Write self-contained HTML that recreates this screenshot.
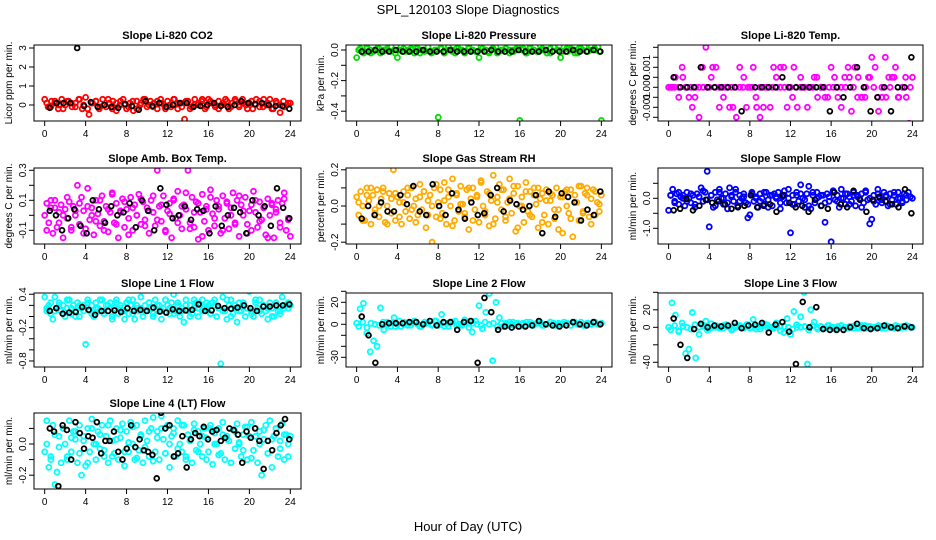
<!DOCTYPE html>
<html><head><meta charset="utf-8">
<style>
html,body{margin:0;padding:0;background:#fff;}
svg{display:block;font-family:"Liberation Sans",Arial,sans-serif;}
</style></head>
<body>
<svg id="chart" width="936" height="540" viewBox="0 0 936 540">
<text x="468" y="14" text-anchor="middle" font-size="13">SPL_120103  Slope Diagnostics</text>
<text x="468" y="531" text-anchor="middle" font-size="13">Hour of Day (UTC)</text>
</svg>
<script>
// ---- data (hours are evenly spread over the day) ----
const xTicks = [0,4,8,12,16,20,24];

const co2Color = [0.3,-0.1,0.2,0.1,-0.2,0.3,0.0,0.2,-0.1,0.1,0.3,-0.2,0.4,-0.5,0.1,0.2,-0.2,0.3,-0.1,0.1,0.2,-0.3,0.0,0.3,-0.2,0.1,-0.3,0.2,0.0,0.3,-0.1,0.2,0.1,-0.2,0.3,0.0,0.2,-0.1,0.3,-0.2,0.1,-0.75,0.2,-0.1,0.3,0.0,0.2,-0.2,0.3,0.1,-0.1,0.2,0.0,0.3,-0.2,0.1,0.2,-0.1,0.3,0.0,0.1,-0.2,0.3,0.2,-0.1,0.0,0.3,-0.2,0.1,-0.4,0.2,0.0,0.1];
const co2Color2 = [0.1,-0.1,0.2,0.0,-0.2,0.2,0.1,-0.1,0.3,0.0,-0.2,0.1,0.2,-0.1,0.0,0.3,-0.2,0.1,0.2,0.0,-0.1,0.2,-0.2,0.1,0.3,0.0,-0.1,0.2,0.1,-0.2,0.0,0.3,0.1,-0.1,0.2,-0.2,0.0,0.1,0.3,-0.1,0.2,0.0,-0.2,0.1,0.2,-0.1,0.3,0.0,0.1,-0.2,0.2,0.0,-0.1,0.3,0.1,-0.2,0.2,0.0,-0.1,0.1];
const co2Black = [-0.15,0.1,0.1,0.1,3.0,-0.05,0.15,-0.1,0.0,-0.1,-0.15,0.05,-0.05,-0.25,0.2,-0.05,0.1,-0.1,0.0,0.1,0.1,-0.1,-0.05,0.0,0.1,-0.05,-0.1,0.0,0.2,0.1,0.05,0.1,0.0,-0.05,-0.05,-0.2];
const co2Ticks = [0,1,2,3];
const co2Labels = ["0","1","2","3"];

const presColor = [-0.05,0.01,-0.02,0.02,0.0,-0.01,0.01,-0.02,0.0,0.01,-0.01,0.0,-0.05,0.02,-0.01,0.0,0.01,-0.02,0.01,0.0,-0.01,0.02,-0.02,0.0,-0.44,0.01,-0.01,0.02,0.0,-0.02,0.01,0.0,-0.01,0.02,0.0,-0.01,-0.05,0.01,0.0,-0.02,0.01,0.02,-0.01,0.0,0.01,-0.02,0.0,0.01,-0.46,0.01,-0.02,0.02,0.0,-0.01,0.03,0.0,-0.02,0.01,0.02,0.0,-0.05,0.02,-0.01,0.01,0.0,-0.02,0.01,0.02,-0.01,0.0,0.01,0.02,-0.46];
const presColor2 = [0.0,-0.01,0.01,-0.02,0.0,0.01,-0.01,0.0,0.02,-0.02,0.0,0.01,-0.01,0.0,0.01,-0.02,0.0,0.02,-0.01,0.0,0.01,-0.02,0.0,-0.01,0.01,0.0,-0.02,0.01,0.0,-0.01,0.02,0.0,-0.01,0.01,-0.02,0.0,0.01,0.0,-0.01,0.02,0.0,-0.02,0.01,0.0,-0.01,0.01,0.0,-0.02,0.02,0.0,-0.01,0.01,0.0,-0.02,0.01,0.0,-0.01,0.02,0.0,-0.01];
const presBlack = [-0.01,-0.01,0.0,-0.01,-0.01,0.0,-0.01,-0.01,-0.01,0.0,-0.01,-0.01,-0.01,0.0,-0.01,-0.01,-0.01,-0.01,-0.01,0.0,-0.01,-0.01,-0.01,0.0,-0.01,-0.01,-0.01,0.0,-0.01,-0.01,-0.01,0.0,-0.01,-0.01,0.0,-0.01];
const presTicks = [0,-0.1,-0.2,-0.3,-0.4];
const presLabels = ["0.0","","-0.2","","-0.4"];

// Li-820 temp in units of 1e-4 degC/min
const tempColor = [0,0,5,-5,10,0,-5,-10,0,-15,10,20,0,10,10,-10,0,0,-10,-10,-15,10,0,-10,0,10,-10,-15,-10,0,-10,10,0,10,10,-10,0,10,-10,5,0,-10,0,5,-5,0,0,-5,10,5,-5,-10,5,10,-12,10,5,-5,-5,5,15,10,-12,-5,15,5,5,10,-5,23,5,-18,5];
const tempColor2 = [0,0,0,5,0,0,-5,0,0,0,5,0,0,-5,0,0,0,0,5,0,0,-5,0,0,0,0,5,0,0,0,-5,0,0,0,0,0,5,0,-5,0,0,0,0,0,5,0,-5,-5,0,5,0,-5,0,-5,0,5,-5,0,-5,0];
const tempBlack = [5,0,0,0,10,0,0,0,0,0,-12,23,0,0,0,0,5,0,0,0,0,0,0,-12,0,-5,0,10,0,-12,-5,0,-12,0,0,15];
const tempTicks = [20,15,10,5,0,-5,-10,-15];
const tempLabels = ["","","0.001","","0.000","","-0.001",""];

const ambColor = [0.0,0.08,-0.05,0.1,-0.12,0.05,-0.08,0.02,0.07,-0.15,0.04,-0.02,0.09,-0.1,0.06,0.0,0.2,-0.06,0.12,0.03,-0.09,0.18,-0.03,0.05,-0.13,0.1,0.01,-0.07,0.13,-0.04,0.06,-0.11,0.02,0.15,-0.05,0.08,-0.15,0.03,0.11,-0.08,0.04,-0.02,0.12,-0.1,0.07,0.0,0.14,-0.06,0.09,-0.03,0.05,-0.12,0.1,0.02,-0.07,0.3,0.06,-0.04,0.13,-0.1,0.03,0.08,-0.15,0.11,-0.02,0.16,0.0,-0.09,0.07,0.04,0.3,-0.05,0.12,-0.08,0.09,-0.16,0.02,0.14,-0.04,0.06,-0.1,0.17,0.01,-0.07,0.1,0.04,-0.12,0.13,-0.02,0.08,-0.09,0.05,0.15,-0.05,0.1,-0.14,0.07,0.0,0.12,-0.06,0.03,-0.1,0.16,0.02,-0.08,0.09,-0.03,0.05,-0.13,0.11,0.0,0.07,-0.15,0.04,0.1,-0.05,0.08,0.15,-0.1,-0.02,-0.14];
const ambColor2 = [-0.1,0.05,0.1,-0.05,0.0,0.12,-0.08,0.03,0.08,-0.12,0.06,0.0,-0.04,0.1,-0.1,0.04,0.14,-0.06,0.02,0.09,-0.13,0.05,0.0,0.11,-0.07,0.03,0.13,-0.03,0.07,-0.11,0.01,0.1,-0.05,0.06,0.15,-0.09,0.02,0.08,-0.14,0.04,0.12,-0.02,0.06,-0.1,0.09,0.0,-0.06,0.13,0.03,-0.12,0.07,0.1,-0.04,0.05,-0.15,0.08,0.02,-0.08,0.11,-0.03];
const ambBlack = [0.03,0.0,-0.1,-0.02,0.04,-0.07,-0.12,0.1,0.04,-0.05,0.06,0.0,0.02,0.08,-0.08,0.1,0.03,-0.1,0.18,0.07,-0.02,0.0,0.06,-0.03,0.04,0.03,-0.12,0.06,-0.07,0.0,0.05,0.02,-0.12,0.1,0.0,0.06,-0.07,0.18,0.05,-0.02];
const ambTicks = [0.3,0.2,0.1,0.0,-0.1];
const ambLabels = ["0.3","","0.1","","-0.1"];

const rhColor = [0.05,-0.05,0.08,0.0,-0.08,0.1,0.03,-0.1,0.06,-0.02,0.09,-0.06,0.04,0.1,-0.09,0.0,0.07,-0.04,0.2,-0.08,0.05,0.02,-0.1,0.08,-0.03,0.06,-0.07,0.1,0.0,0.04,-0.05,0.12,-0.02,0.08,-0.12,0.03,0.06,-0.2,0.1,-0.06,0.02,0.09,-0.04,0.13,-0.1,0.05,0.0,0.15,-0.08,0.07,-0.03,0.11,0.01,-0.06,0.09,-0.13,0.04,0.1,-0.02,0.06,-0.09,0.14,0.0,-0.05,0.08,-0.11,0.03,0.17,-0.07,0.05,0.12,-0.02,0.09,-0.08,0.02,0.15,-0.04,0.07,-0.14,0.11,0.0,0.05,-0.09,0.13,-0.03,0.08,-0.06,0.1,0.01,-0.12,0.04,0.07,-0.05,0.09,-0.1,0.03,0.06,-0.07,0.1,-0.02,0.05,-0.15,0.08,0.0,-0.04,0.09,-0.17,0.06,0.02,-0.08,0.11,-0.03,0.07,0.1,-0.06,0.04,0.09,-0.05,0.02,-0.03,0.06];
const rhColor2 = [0.02,-0.08,0.06,0.1,-0.04,0.0,0.08,-0.1,0.04,0.07,-0.06,0.02,0.1,-0.02,-0.09,0.05,0.08,-0.05,0.0,0.12,-0.07,0.03,0.09,-0.11,0.06,0.01,-0.04,0.1,-0.08,0.05,0.13,-0.03,0.07,-0.1,0.02,0.09,-0.06,0.04,0.11,-0.12,0.0,0.08,-0.05,0.06,0.1,-0.09,0.03,0.07,-0.02,-0.13,0.05,0.09,-0.07,0.02,0.11,-0.04,0.06,-0.1,0.08,0.01];
const rhBlack = [-0.07,0.0,-0.05,0.02,-0.03,-0.03,0.06,0.01,0.11,-0.03,-0.05,0.12,0.0,-0.05,0.07,-0.02,-0.07,0.02,-0.05,-0.04,0.06,0.1,-0.03,0.03,0.01,-0.02,0.0,0.06,-0.15,0.08,-0.06,0.07,0.05,0.02,-0.08,-0.02,-0.05,0.08];
const rhTicks = [0.2,0.1,0.0,-0.1,-0.2];
const rhLabels = ["0.2","","0.0","","-0.2"];

const flowColor = [-0.4,0.1,0.3,-0.1,0.15,-0.2,0.05,0.1,-0.25,0.2,0.0,-0.15,0.1,-0.3,0.15,0.05,0.35,-0.1,0.2,0.9,-0.95,0.1,-0.3,0.2,-0.05,0.3,0.0,-0.2,0.15,-0.35,0.35,0.05,-0.1,0.2,-0.25,0.1,0.0,0.15,-0.15,-0.65,-0.55,0.2,-0.1,0.05,-0.3,0.15,0.0,-0.2,0.2,-0.05,0.1,-0.25,0.15,0.0,0.2,-0.35,0.05,0.1,-0.15,0.3,-1.15,0.1,-0.2,0.2,-0.1,0.45,0.0,-0.3,0.15,0.4,-0.35,0.1,-0.15,0.2,0.05,-0.25,0.1,-0.8,0.15,-0.1,-1.45,0.2,-0.05,0.1,-0.3,0.3,0.0,-0.2,0.15,0.05,-0.1,0.2,-0.25,0.1,0.0,0.15,-0.15,0.25,-0.05,-0.85,-0.7,0.1,-0.2,0.3,0.0,-0.15,0.2,0.05,-0.25,0.15,-0.05,0.1,-0.2,0.2,0.0,-0.1,0.15,-0.05,0.2,0.05,0.0];
const flowColor2 = [0.1,-0.15,0.2,0.0,-0.1,0.15,-0.2,0.05,0.25,-0.05,0.1,-0.25,0.2,0.0,-0.15,0.1,0.3,-0.1,0.05,-0.2,0.15,0.0,-0.1,0.2,-0.3,0.1,0.05,-0.15,0.25,0.0,-0.2,0.1,0.15,-0.05,-0.25,0.2,0.0,0.1,-0.15,0.05,0.25,-0.1,0.0,0.15,-0.2,0.1,0.05,-0.3,0.2,0.0,-0.1,0.15,-0.05,0.1,-0.2,0.2,0.0,-0.15,0.1,0.05];
const flowBlack = [-0.4,-0.35,-0.02,-0.4,-0.25,-0.05,-0.15,-0.1,-0.2,-0.35,-0.3,-0.25,0.1,-0.3,-0.25,-0.2,-0.45,0.1,-0.15,-0.3,-0.25,-0.45,-0.05,-0.25,-0.35,0.2,-0.2,-0.3,0.25,-0.05,-0.45,-0.05,0.05,-0.1,-0.2,-0.3,0.3,-0.5];
const flowTicks = [0.5,0.0,-0.5,-1.0];
const flowLabels = ["","0.0","","-1.0"];

const l1Color = [0.35,0.1,0.2,0.05,-0.05,0.35,0.15,0.25,0.1,0.2,0.0,0.15,0.3,0.05,0.2,0.1,0.25,0.0,0.15,0.2,-0.5,0.3,0.1,0.2,0.0,0.25,0.15,0.1,0.3,0.05,0.2,0.1,0.25,-0.05,0.15,0.3,0.05,0.2,0.1,-0.05,0.25,0.05,0.2,0.3,-0.05,0.15,0.1,0.35,0.0,0.2,0.1,0.25,0.15,0.05,0.3,0.1,0.2,-0.05,0.15,0.3,0.2,0.05,0.25,0.4,0.1,0.2,0.0,0.15,-0.1,0.3,0.1,0.2,0.05,0.15,0.25,0.0,0.2,0.3,0.1,0.15,0.2,0.05,0.25,0.3,0.0,0.15,-0.85,0.35,0.1,-0.05,0.2,0.3,0.05,0.15,-0.1,0.25,0.1,0.2,0.0,0.15,0.45,0.1,0.0,0.25,0.15,0.3,0.05,0.2,0.1,-0.05,0.25,0.15,0.0,0.2,0.1,0.05,0.35,0.15,0.2,0.25,0.2];
const l1Color2 = [0.15,0.25,0.1,0.2,0.05,0.3,0.15,0.0,0.2,0.1,0.25,0.05,0.15,0.3,0.1,0.2,0.0,0.25,0.15,0.1,0.3,0.05,0.2,0.15,0.1,0.25,0.0,0.2,0.1,0.3,0.15,0.05,0.25,0.1,0.2,0.0,0.3,0.15,0.1,0.25,0.05,0.2,0.15,0.1,0.3,0.0,0.2,0.1,0.25,0.15,0.05,0.3,0.1,0.2,0.15,0.0,0.25,0.1,0.2,0.15];
const l1Black = [0.1,0.15,0.05,0.07,0.08,0.17,0.12,0.03,0.1,0.1,0.11,0.08,0.15,0.1,0.12,0.1,0.16,0.09,0.07,0.13,0.1,0.11,0.12,0.22,0.1,0.11,0.19,0.15,0.14,0.16,0.2,0.15,0.1,0.18,0.18,0.2,0.2,0.22];
const l1Ticks = [0.4,0.2,0.0,-0.2,-0.4,-0.6,-0.8];
const l1Labels = ["0.4","","","-0.2","","","-0.8"];

const l2Color = [1,14,19,-8,-25,-15,-20,15,-5,2,-2,6,0,-2,2,1,-1,3,0,-2,2,1,0,3,-1,9,1,-2,2,3,0,-1,2,1,-7,3,17,-4,11,28,-33,20,6,-2,1,-1,2,0,-2,1,2,0,-1,1,2,-1,0,2,1,-1,0,2,1,-1,1,0,2,-1,1,0,1,0,1];
const l2Color2 = [-2,2,-3,1,0,-1,2,0,1,-2,3,0,-1,1,2,-2,0,1,-1,3,0,-2,1,2,-1,0,4,-3,1,0,-1,2,0,1,-2,1,0,2,-1,1,0,-1,2,0,1,-1,0,2,-1,1,0,1,-1,2,0,-1,1,0,2,0];
const l2Black = [7,-10,-35,0,1,1,1,2,2,0,3,-1,2,2,-5,2,3,-35,24,11,-5,-2,-3,-2,-2,-1,3,0,-1,-2,-1,2,0,-1,2,0];
const l2Ticks = [30,20,10,0,-10,-20,-30];
const l2Labels = ["","20","","0","","","-30"];

const l3Color = [0,28,14,-5,5,-30,-25,17,-35,-8,3,7,-2,0,2,1,-1,3,0,-2,2,1,0,3,-1,9,1,-2,2,3,0,-1,2,1,-6,10,-8,18,0,12,40,-42,20,6,-2,1,-1,2,0,-2,1,2,0,-1,1,2,-1,0,2,1,-1,0,2,1,-1,1,0,2,-1,1,0,1,0];
const l3Color2 = [-3,2,-4,1,0,-2,3,0,1,-3,4,0,-1,2,1,-3,0,2,-1,3,0,-2,1,4,-1,0,5,-4,1,0,-2,3,0,1,-3,2,0,1,-1,2,0,-1,2,0,1,-1,0,2,-1,1,0,1,-1,2,0,-1,1,0,2,0];
const l3Black = [10,-20,-35,-2,4,0,2,1,2,5,-1,2,3,5,-6,3,6,-5,-42,29,0,23,-2,-3,-3,-3,0,4,-1,-2,-1,2,0,-1,1,0];
const l3Ticks = [40,20,0,-20,-40];
const l3Labels = ["","20","0","","-40"];

const l4Color = [-0.05,0.15,-0.15,-0.1,0.12,-0.26,-0.18,0.05,-0.12,0.1,0.0,-0.08,0.15,-0.05,0.08,0.03,-0.12,0.12,-0.2,0.05,-0.14,0.1,-0.05,0.16,0.0,-0.1,0.08,-0.03,0.12,-0.08,0.05,-0.12,0.15,0.02,-0.06,0.1,-0.1,0.04,0.13,-0.14,0.08,-0.05,0.14,0.0,-0.1,0.12,-0.04,0.06,-0.12,0.15,0.02,-0.08,0.1,0.17,-0.05,0.08,-0.1,0.18,0.03,-0.06,0.12,-0.15,0.05,0.1,-0.08,0.15,0.0,-0.05,0.12,-0.1,0.06,0.02,-0.12,0.13,-0.04,0.08,0.0,-0.08,0.1,0.04,-0.05,0.12,-0.13,0.07,0.0,0.1,-0.06,0.14,-0.1,0.05,0.02,-0.12,0.09,-0.03,0.13,0.0,-0.08,0.06,0.11,-0.1,0.05,0.14,-0.04,0.1,-0.12,0.08,-0.2,0.03,0.12,-0.06,0.15,-0.15,0.05,0.1,-0.08,0.02,0.13,-0.1,0.06,0.0,0.05];
const l4Color2 = [0.0,-0.08,0.06,-0.02,0.1,-0.1,0.04,0.08,-0.06,0.02,-0.12,0.1,0.0,0.06,-0.04,0.12,-0.08,0.03,0.09,-0.05,0.01,0.11,-0.09,0.05,-0.02,0.08,-0.11,0.04,0.1,-0.06,0.0,0.07,-0.03,0.12,-0.08,0.02,0.09,-0.05,0.05,-0.1,0.1,0.0,-0.07,0.06,0.03,-0.12,0.08,0.01,-0.04,0.11,-0.09,0.05,0.0,0.09,-0.06,0.03,0.1,-0.03,0.06,-0.08];
const l4Black = [0.1,0.08,-0.27,0.12,0.09,-0.1,0.14,0.07,-0.03,0.05,0.04,0.14,-0.06,0.02,0.02,0.08,-0.05,-0.1,-0.03,0.12,-0.02,0.03,-0.04,-0.05,-0.07,-0.22,0.2,0.1,0.12,-0.08,-0.06,0.05,-0.15,0.03,0.07,0.05,0.11,0.03,0.08,0.09,0.02,0.04,0.1,0.09,0.06,-0.12,0.08,0.04,0.1,0.02,-0.16,0.02,-0.04,0.07,0.12,0.16,0.03];
const l4Ticks = [0.1,0.0,-0.1,-0.2];
const l4Labels = ["","0.0","","-0.2"];

// ---- panel layout ----
const panels = [
 {key:'co2',  title:'Slope Li-820 CO2', ylab:'Licor ppm per min.', col:0,row:0, color:'#ff0000', c:co2Color, c2:co2Color2, b:co2Black, ticks:co2Ticks, labels:co2Labels, zero:105, scale:19},
 {key:'pressure', title:'Slope Li-820 Pressure', ylab:'kPa per min.', col:1,row:0, color:'#00e000', c:presColor, c2:presColor2, b:presBlack, ticks:presTicks, labels:presLabels, zero:50, scale:153},
 {key:'licor-temp', title:'Slope Li-820 Temp.', ylab:'degrees C per min.', col:2,row:0, color:'#ff00ff', c:tempColor, c2:tempColor2, b:tempBlack, ticks:tempTicks, labels:tempLabels, zero:87.3, scale:2},
 {key:'amb-temp', title:'Slope Amb. Box Temp.', ylab:'degrees C per min.', col:0,row:1, color:'#ff00ff', c:ambColor, c2:ambColor2, b:ambBlack, ticks:ambTicks, labels:ambLabels, zero:215.3, scale:150},
 {key:'rh', title:'Slope Gas Stream RH', ylab:'percent per min.', col:1,row:1, color:'#ffaa00', c:rhColor, c2:rhColor2, b:rhBlack, ticks:rhTicks, labels:rhLabels, zero:206, scale:181},
 {key:'sample-flow', title:'Slope Sample Flow', ylab:'ml/min per min.', col:2,row:1, color:'#0000ff', c:flowColor, c2:flowColor2, b:flowBlack, ticks:flowTicks, labels:flowLabels, zero:198.3, scale:30},
 {key:'line1', title:'Slope Line 1 Flow', ylab:'ml/min per min.', col:0,row:2, color:'#00ffff', c:l1Color, c2:l1Color2, b:l1Black, ticks:l1Ticks, labels:l1Labels, zero:316.5, scale:55.6},
 {key:'line2', title:'Slope Line 2 Flow', ylab:'ml/min per min.', col:1,row:2, color:'#00ffff', c:l2Color, c2:l2Color2, b:l2Black, ticks:l2Ticks, labels:l2Labels, zero:324.3, scale:1.1},
 {key:'line3', title:'Slope Line 3 Flow', ylab:'ml/min per min.', col:2,row:2, color:'#00ffff', c:l3Color, c2:l3Color2, b:l3Black, ticks:l3Ticks, labels:l3Labels, zero:327.3, scale:0.875},
 {key:'line4', title:'Slope Line 4 (LT) Flow', ylab:'ml/min per min.', col:0,row:3, color:'#00ffff', c:l4Color, c2:l4Color2, b:l4Black, ticks:l4Ticks, labels:l4Labels, zero:444, scale:156}
];
const colX = [[34,301],[346,612],[658,923]];
const rowY = [[45,121],[168,244],[293,367],[413,489]];

const NS = 'http://www.w3.org/2000/svg';
const svg = document.getElementById('chart');
function mk(tag, attrs, parent){
  const e = document.createElementNS(NS, tag);
  for (const k in attrs) e.setAttribute(k, attrs[k]);
  (parent||svg).appendChild(e);
  return e;
}

panels.forEach(p => {
  const [L,R] = colX[p.col], [T,B] = rowY[p.row], W = R-L;
  const g = mk('g', {});
  
  
  const xs = h => L + 0.04*W + h/24*0.92*W;
  const ys = v => p.zero - v*p.scale;

  const clipId = 'clip-' + p.key;
  const cp = mk('clipPath', {id:clipId}, g);
  mk('rect', {x:L, y:T, width:W, height:B-T}, cp);
  const pts = mk('g', {'clip-path':'url(#'+clipId+')', fill:'none', 'stroke-width':1.8}, g);

  // colored series (evenly across 0-24 h)
  p.c.forEach((v,i) => {
    const h = i*24/(p.c.length-1);
    const c = mk('circle', {cx:xs(h), cy:ys(v), r:2.5, stroke:p.color}, pts);
    
    
  });
  p.c2.forEach((v,i) => {
    const h = (i+0.5)*24/p.c2.length;
    const c = mk('circle', {cx:xs(h), cy:ys(v), r:2.5, stroke:p.color}, pts);
    
    
  });
  // black series
  p.b.forEach((v,i) => {
    const h = 0.5 + i*23.4/(p.b.length-1);
    const c = mk('circle', {cx:xs(h), cy:ys(v), r:2.4, stroke:'#000'}, pts);
    
    
  });

  const box = mk('rect', {x:L, y:T, width:W, height:B-T, fill:'none', stroke:'#000', 'stroke-width':1}, g);
  
  

  const t = mk('text', {x:(L+R)/2, y:T-6, 'text-anchor':'middle', 'font-size':11, 'font-weight':'bold'}, g);
  t.textContent = p.title;
  
  

  // x axis
  const xa = mk('g', {}, g);
  
  
  mk('line', {x1:xs(xTicks[0]), x2:xs(xTicks[xTicks.length-1]), y1:B, y2:B, stroke:'#000'}, xa);
  xTicks.forEach(h => {
    mk('line', {x1:xs(h), x2:xs(h), y1:B, y2:B+5, stroke:'#000'}, xa);
    const tl = mk('text', {x:xs(h), y:B+16, 'text-anchor':'middle', 'font-size':10}, xa);
    tl.textContent = h;
    
    
  });

  // y axis
  const ya = mk('g', {}, g);
  
  
  mk('line', {x1:L, x2:L, y1:ys(p.ticks[0]), y2:ys(p.ticks[p.ticks.length-1]), stroke:'#000'}, ya);
  p.ticks.forEach((v,i) => {
    const y = ys(v);
    mk('line', {x1:L-5, x2:L, y1:y, y2:y, stroke:'#000'}, ya);
    if (p.labels[i]) {
      const tl = mk('text', {x:L-8, y:y, 'text-anchor':'middle', 'font-size':10, transform:'rotate(-90 '+(L-8)+' '+y+')'}, ya);
      tl.textContent = p.labels[i];
      
      
    }
  });
  const cy = (T+B)/2, cx = L-22;
  const yl = mk('text', {x:cx, y:cy, 'text-anchor':'middle', 'font-size':10, transform:'rotate(-90 '+cx+' '+cy+')'}, g);
  yl.textContent = p.ylab;
  
  
});
</script>
</body></html>
